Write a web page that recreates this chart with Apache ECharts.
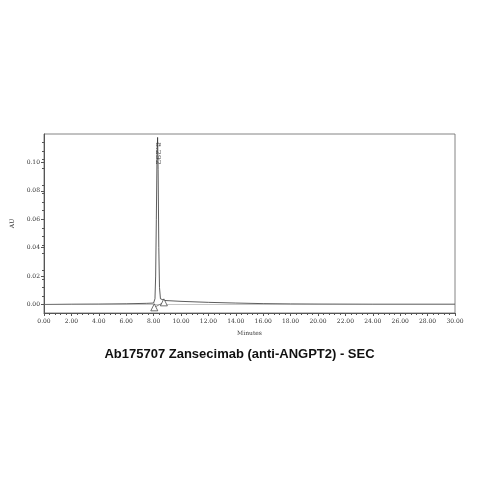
<!DOCTYPE html>
<html><head><meta charset="utf-8">
<script src="https://cdn.jsdelivr.net/npm/echarts@6/dist/echarts.min.js"></script>
<style>html,body{margin:0;background:#fff}#c{width:479px;height:479px}</style>
</head><body><div id="c"></div>
<script>
var times = [0, 2, 4, 6, 7.5, 8.0, 8.1, 8.15, 8.2, 8.25, 8.292, 8.33, 8.38, 8.43, 8.5, 8.6, 8.8, 10, 12, 14, 16, 18, 20, 24, 30];
var signal = [0, 0.0002, 0.0003, 0.0005, 0.0008, 0.001, 0.004, 0.02, 0.06, 0.105, 0.1176, 0.095, 0.04, 0.012, 0.004, 0.003, 0.0028, 0.0022, 0.0015, 0.001, 0.0006, 0.0004, 0.0003, 0.0002, 0.0002];
var peakTime = 8.292;
var peakHeight = 0.1176;
var peakBounds = [[8.05, -0.002], [8.75, 0.0015]];
var yTicks = [0, 0.02, 0.04, 0.06, 0.08, 0.1];

var chart = echarts.init(document.getElementById('c'));
var f = 'DejaVu Serif';
chart.setOption({
  animation: false,
  title: {text: 'Ab175707 Zansecimab (anti-ANGPT2) - SEC', left: 'center', top: 343,
    textStyle: {fontFamily: 'Liberation Sans', fontSize: 13, fontWeight: 'bold', color: '#111'}},
  grid: {left: 44, right: 24, top: 134, bottom: 166, show: true, borderColor: '#666', borderWidth: 0.8},
  xAxis: {type: 'value', min: 0, max: 30, interval: 2,
    name: 'Minutes', nameLocation: 'middle', nameGap: 17,
    nameTextStyle: {fontFamily: f, fontSize: 6, color: '#333'},
    axisLine: {onZero: false, lineStyle: {color: '#555'}}, axisTick: {length: 3, lineStyle: {color: '#555'}},
    minorTick: {show: true, splitNumber: 5, length: 2, lineStyle: {color: '#555'}},
    axisLabel: {fontFamily: f, fontSize: 6, color: '#333', margin: 5, formatter: function (v) { return v.toFixed(2); }},
    splitLine: {show: false}},
  yAxis: {type: 'value', min: -0.006, max: 0.12,
    name: 'AU', nameLocation: 'middle', nameGap: 24, nameRotate: 90,
    nameTextStyle: {fontFamily: f, fontSize: 6, color: '#333'},
    axisLine: {show: true, onZero: false, lineStyle: {color: '#555'}},
    axisTick: {show: true, length: 3, customValues: yTicks, lineStyle: {color: '#555'}},
    minorTick: {show: true, splitNumber: 5, length: 2, lineStyle: {color: '#555'}},
    axisLabel: {fontFamily: f, fontSize: 6, color: '#333', margin: 4, formatter: function (v) { return v.toFixed(2); },
      customValues: yTicks},
    splitLine: {show: false}},
  series: [
    {type: 'line', data: times.map(function (t, i) { return [t, signal[i]]; }), symbol: 'none',
      lineStyle: {color: '#333', width: 0.8}},
    {type: 'scatter', data: [[peakTime, peakHeight - 0.012]], symbolSize: 0, silent: true,
      label: {show: true, position: 'inside', rotate: -90, fontFamily: f, fontSize: 8, color: '#333', offset: [-1, 0],
        formatter: function () { return peakTime.toFixed(3); }}},
    {type: 'line', data: peakBounds, symbol: 'triangle', symbolSize: 7,
      itemStyle: {color: '#fff', borderColor: '#333', borderWidth: 0.7},
      lineStyle: {color: '#333', width: 0.6}},
    {type: 'line', data: [[0, 0], [30, 0]], symbol: 'none', lineStyle: {color: '#888', width: 0.5}}
  ]
});
</script></body></html>
